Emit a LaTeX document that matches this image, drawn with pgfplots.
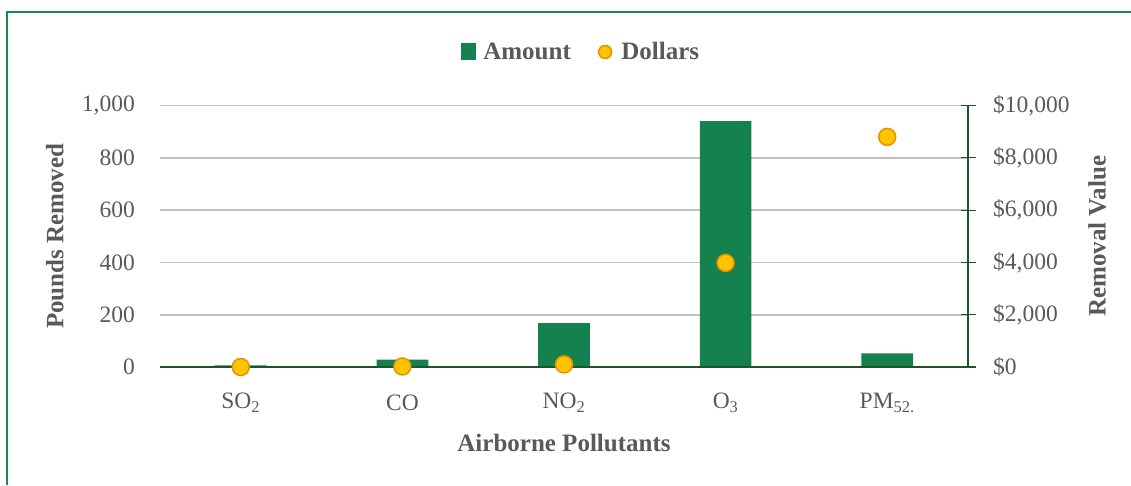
\documentclass[border=0pt]{standalone}
\usepackage{pgfplots}
\pgfplotsset{compat=1.18}
\usepackage{fontspec}
\setmainfont{Liberation Serif}
\definecolor{barGreen}{RGB}{20,129,79}
\definecolor{axisGreen}{RGB}{30,85,40}
\definecolor{frameGreen}{RGB}{25,140,75}
\definecolor{gridGray}{RGB}{192,192,192}
\definecolor{textGray}{RGB}{89,89,89}
\definecolor{dotFill}{RGB}{255,196,0}
\definecolor{dotDraw}{RGB}{232,145,0}
\begin{document}
\begin{tikzpicture}[x=1pt,y=1pt]
\useasboundingbox (0,0) rectangle (1131,485);
\draw[frameGreen, line width=1.5pt] (7,0) -- (7,473) -- (1131,473);
\begin{axis}[
  at={(160pt,118pt)}, anchor=south west,
  scale only axis, width=808pt, height=261.5pt,
  xmin=-0.5, xmax=4.5, ymin=0, ymax=1000,
  xtick={0,1,2,3,4},
  xticklabels={SO\textsubscript{2},CO,NO\textsubscript{2},O\textsubscript{3},PM\textsubscript{52.}},
  ytick={0,200,400,600,800,1000},
  scaled y ticks=false,
  axis line style={draw=none},
  major tick length=0pt,
  ymajorgrids, major grid style={gridGray, line width=1.8pt},
  yticklabel={\pgfmathprintnumber[assume math mode=true,1000 sep={,}]{\tick}},
  tick label style={font=\fontsize{23.5}{27}\selectfont, text=textGray, inner sep=0pt},
  yticklabel style={anchor=east, xshift=-25pt},
  xticklabel style={anchor=center, yshift=-36pt},
  ylabel={Pounds Removed},
  ylabel style={at={(axis description cs:-0.13,0.5)}, anchor=center, font=\fontsize{25}{29}\selectfont\bfseries, text=textGray},
  xlabel={Airborne Pollutants},
  xlabel style={at={(axis description cs:0.5,-0.29)}, anchor=center, font=\fontsize{25}{29}\selectfont\bfseries, text=textGray},
  legend columns=2,
  legend style={at={(axis description cs:0.5213,1.2046)}, anchor=center, draw=none, fill=none,
    font=\fontsize{25}{29}\selectfont\bfseries, text=textGray,
    /tikz/every even column/.append style={column sep=25pt}},
]
\addplot[ybar, bar shift=0pt, bar width=0.32, fill=barGreen, draw=none,
  legend image code/.code={\fill[barGreen] (0pt,-8.5pt) rectangle (15pt,8.5pt); \path (20pt,0pt);}]
  coordinates {(0,6) (1,28) (2,168) (3,940) (4,52)};
\addlegendentry{Amount}
\addlegendimage{legend image code/.code={\filldraw[fill=dotFill, draw=dotDraw, line width=1.5pt] (7pt,0pt) circle (6.5pt); \path (21pt,0pt);}}
\addlegendentry{Dollars}
\draw[axisGreen, line width=1.5pt] (axis cs:-0.5,0) -- (axis cs:4.5,0);
\end{axis}
\begin{axis}[
  at={(160pt,118pt)}, anchor=south west,
  scale only axis, width=808pt, height=261.5pt,
  xmin=-0.5, xmax=4.5, ymin=0, ymax=10000,
  axis x line=none, axis y line*=right,
  ytick={0,2000,4000,6000,8000,10000},
  scaled y ticks=false,
  y axis line style={axisGreen, line width=1.2pt, -},
  ytick style={axisGreen, line width=1.2pt},
  tick align=center, major tick length=15pt,
  yticklabel={\$\pgfmathprintnumber[assume math mode=true,1000 sep={,}]{\tick}},
  tick label style={font=\fontsize{23.5}{27}\selectfont, text=textGray, inner sep=0pt},
  yticklabel style={anchor=west, xshift=17.5pt},
  ylabel={Removal Value},
  ylabel style={at={(axis description cs:1.1597,0.5)}, anchor=center, font=\fontsize{25}{29}\selectfont\bfseries, text=textGray},
]
\addplot[only marks, mark=*, mark size=8.5pt, mark options={fill=dotFill, draw=dotDraw, line width=1.5pt}]
  coordinates {(0,0) (1,20) (2,100) (3,3980) (4,8800)};
\end{axis}
\end{tikzpicture}
\end{document}
